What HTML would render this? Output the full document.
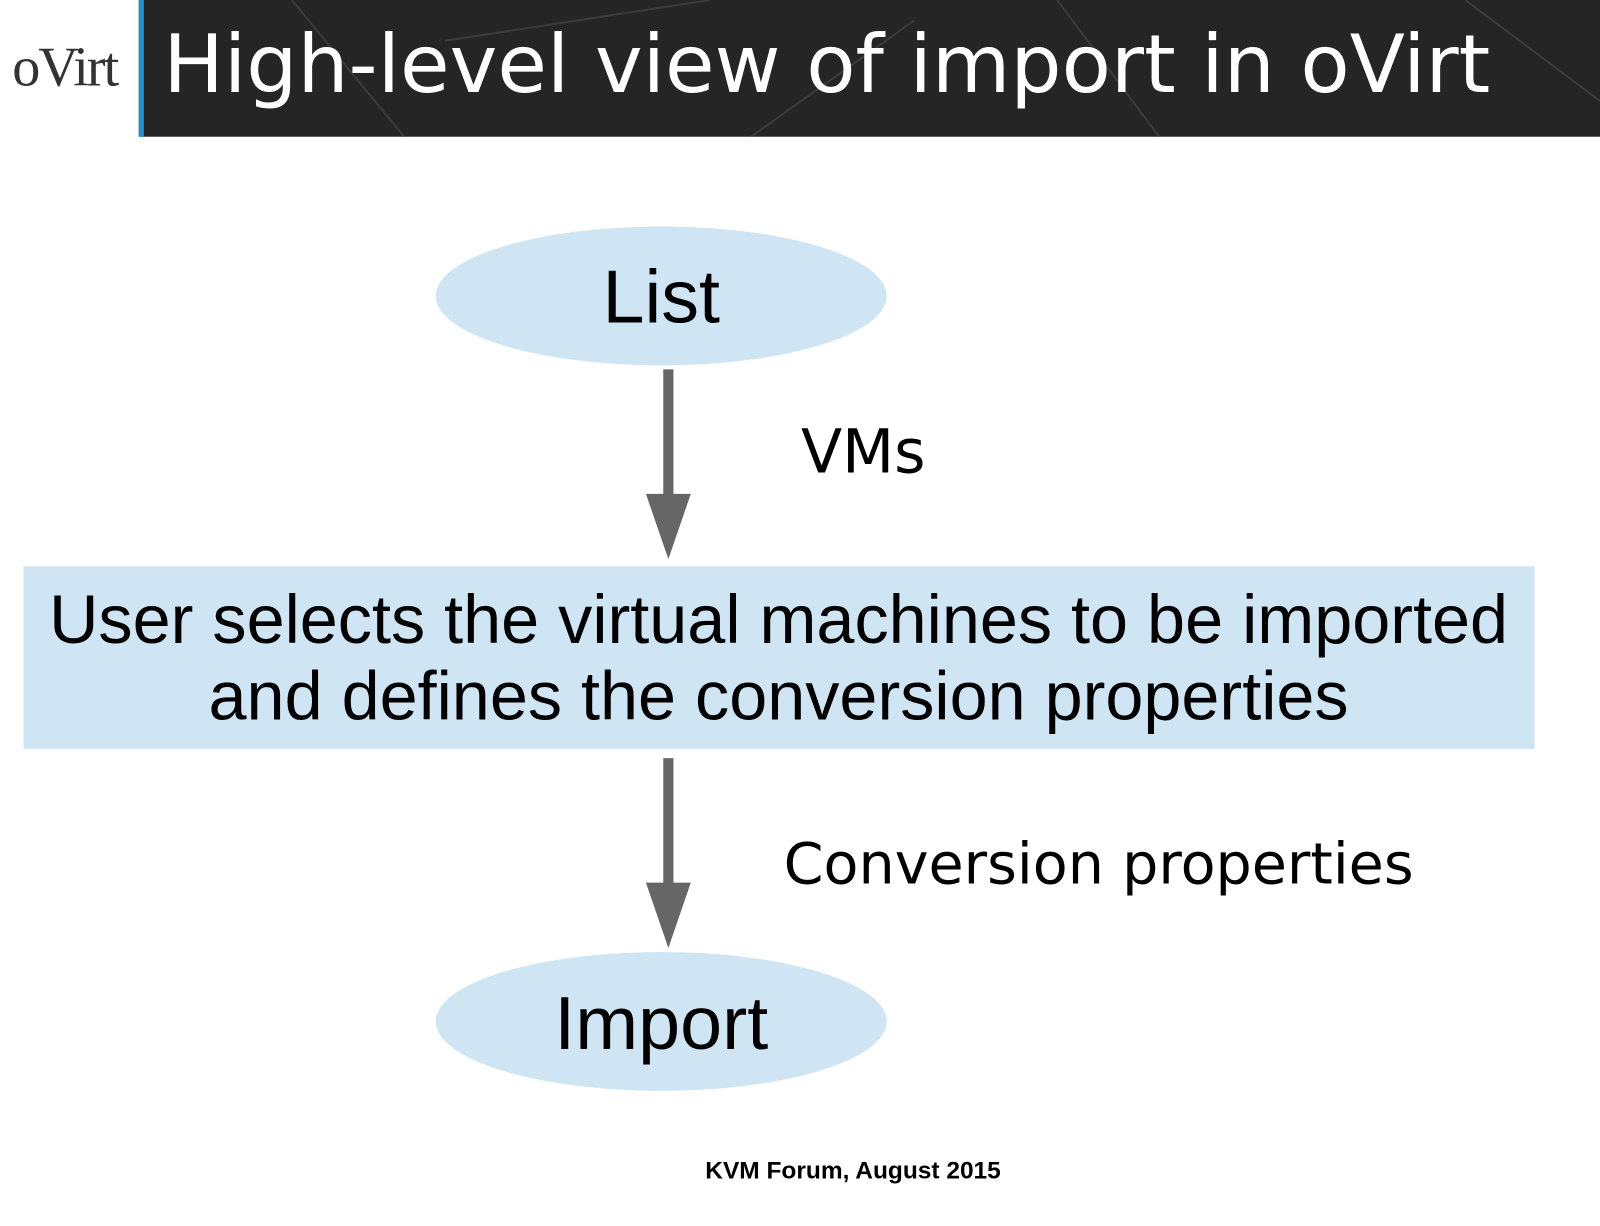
<!DOCTYPE html>
<html><head><meta charset="utf-8"><style>
body{margin:0;width:1600px;height:1201px;background:#fff;position:relative;overflow:hidden;font-family:"Liberation Sans",sans-serif}
#w{position:absolute;left:0;top:0;width:1568px;height:1177px;transform:scale(1.0204);transform-origin:0 0}
.t{position:absolute;white-space:nowrap}
</style></head><body><div id="w">
<div style="position:absolute;left:136px;top:0;width:1464px;height:134px;background:#252525"></div>
<div style="position:absolute;left:136px;top:0;width:5px;height:134px;background:#1f8fd0"></div>
<svg style="position:absolute;left:136px;top:0" width="1464" height="134"><g stroke="#3a3a3a" stroke-width="2" fill="none"><path d="M150 0 L260 134"/><path d="M300 40 L560 0"/><path d="M900 0 L1000 134"/><path d="M1300 0 L1460 120"/><path d="M600 134 L760 20"/></g></svg>
<div class="t" style="left:12px;top:34px;font-family:'Liberation Serif',serif;font-size:55px;color:#333;letter-spacing:-2px">oVirt</div>
<div class="t" style="left:160px;top:17px;font-family:'DejaVu Sans',sans-serif;font-size:79px;color:#fff">High-level view of import in oVirt</div>
<svg style="position:absolute;left:0;top:0" width="1600" height="1201">
<ellipse cx="648" cy="290" rx="221" ry="68" fill="#cfe5f3"/>
<ellipse cx="648" cy="1001" rx="221" ry="68" fill="#cfe5f3"/>
<rect x="23" y="555" width="1481" height="179" fill="#cfe5f3"/>
<g fill="#666"><rect x="650" y="362" width="10" height="124"/><path d="M633 484 L677 484 L655 548Z"/>
<rect x="650" y="743" width="10" height="124"/><path d="M633 865 L677 865 L655 929Z"/></g>
<g font-family="Liberation Sans, sans-serif" fill="#000" text-anchor="middle">
<text x="648" y="316" font-size="74">List</text>
<text x="648" y="1028" font-size="74">Import</text>
<text x="763" y="630" font-size="67">User selects the virtual machines to be imported</text>
<text x="763" y="705" font-size="67">and defines the conversion properties</text>
<text x="836" y="1155" font-size="24" font-weight="bold">KVM Forum, August 2015</text>
</g>
<g font-family="DejaVu Sans, sans-serif" fill="#000">
<text x="785" y="463" font-size="59">VMs</text>
<text x="768" y="866" font-size="56">Conversion properties</text>
</g>
</svg>
</div></body></html>
